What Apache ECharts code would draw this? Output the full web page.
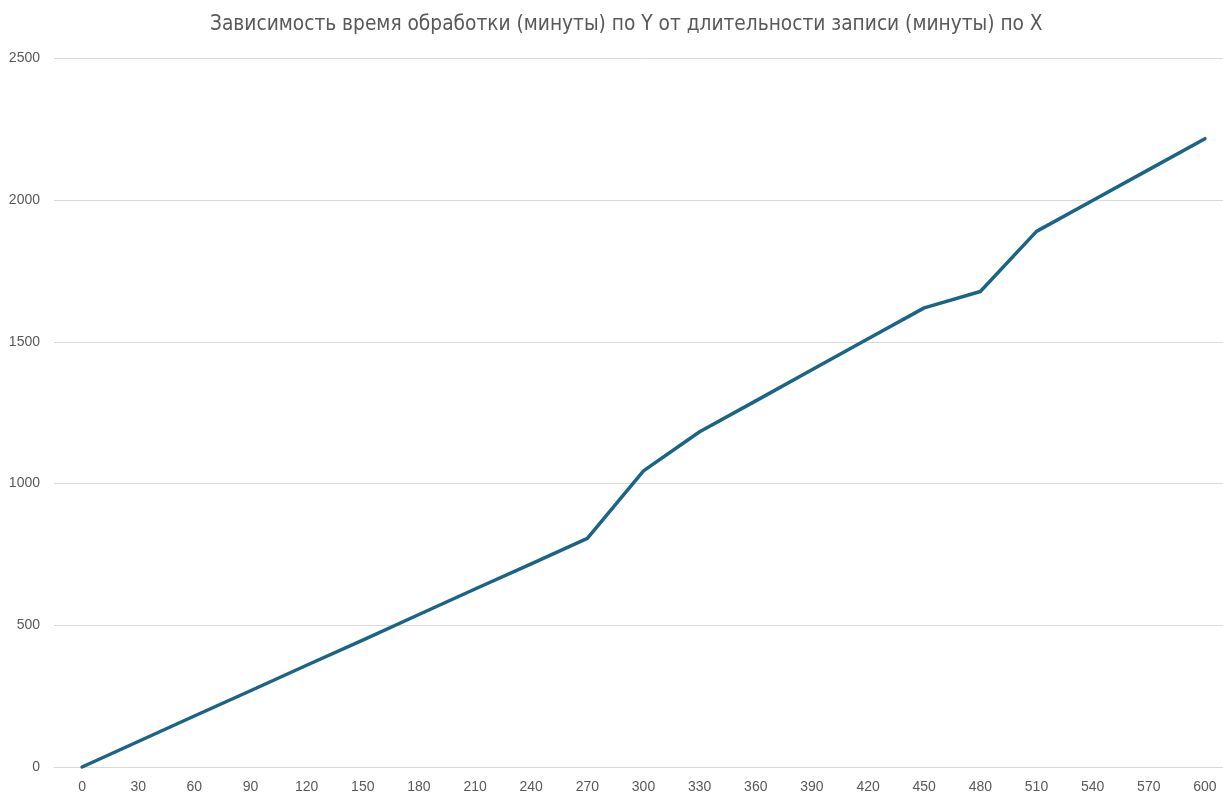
<!DOCTYPE html>
<html>
<head>
<meta charset="utf-8">
<script src="https://cdn.jsdelivr.net/npm/echarts@6/dist/echarts.min.js"></script>
<style>
  html, body { margin: 0; padding: 0; background: #ffffff; overflow: hidden; }
  /* the plot runs slightly past the right edge of the window */
  #chart { width: 1240px; height: 794px; }
</style>
</head>
<body>
<div id="chart"></div>
<script>
// Recording length (minutes) along X
const recordMinutes = ['0', '30', '60', '90', '120', '150', '180', '210', '240', '270',
  '300', '330', '360', '390', '420', '450', '480', '510', '540', '570', '600'];

// Processing time (minutes) along Y
const processMinutes = [0, 90, 180, 269, 359, 448, 538, 628, 717, 807,
  1045, 1183, 1292, 1402, 1511, 1620, 1678, 1890, 1999, 2108, 2217];

const yTicks = { min: 0, max: 2500, interval: 500 };

const chartTitle = 'Зависимость время обработки (минуты) по Y от длительности записи (минуты) по X';

const chart = echarts.init(document.getElementById('chart'), null, { renderer: 'canvas' });

chart.setOption({
  backgroundColor: '#ffffff',
  animation: false,
  title: {
    text: chartTitle,
    left: 205,
    top: 9,
    textStyle: {
      fontFamily: '"Liberation Sans Narrow", "DejaVu Sans Condensed", "Roboto", sans-serif',
      fontSize: 20.7,
      fontWeight: 'normal',
      color: '#595959'
    }
  },
  grid: {
    left: 54,
    top: 58.5,
    width: 1179,
    height: 708.5,
    containLabel: false
  },
  xAxis: {
    type: 'category',
    data: recordMinutes,
    boundaryGap: true,
    axisLine: { show: true, lineStyle: { color: '#d9d9d9', width: 1 } },
    axisTick: { show: false },
    splitLine: { show: false },
    axisLabel: {
      margin: 13,
      fontFamily: '"Liberation Sans", Arial, sans-serif',
      fontSize: 14,
      color: '#595959',
      interval: 0
    }
  },
  yAxis: {
    type: 'value',
    min: yTicks.min,
    max: yTicks.max,
    interval: yTicks.interval,
    axisLine: { show: false },
    axisTick: { show: false },
    splitLine: { show: true, lineStyle: { color: '#d9d9d9', width: 1 } },
    axisLabel: {
      margin: 14,
      fontFamily: '"Liberation Sans", Arial, sans-serif',
      fontSize: 14,
      color: '#595959',
      formatter: (v) => String(v)
    }
  },
  series: [{
    type: 'line',
    data: processMinutes,
    symbol: 'none',
    smooth: false,
    lineStyle: { color: '#1a6585', width: 3.5, cap: 'round', join: 'round' },
    clip: false
  }]
});
</script>
</body>
</html>
